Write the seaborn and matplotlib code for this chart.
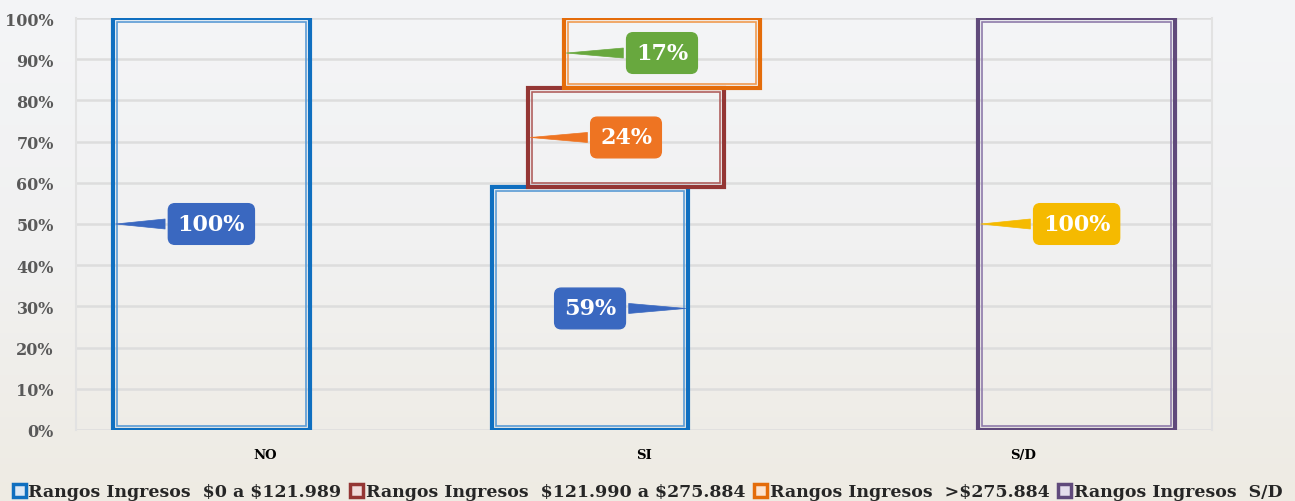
import matplotlib
matplotlib.use("Agg")
import matplotlib.pyplot as plt
import matplotlib.patches as mpatches
import numpy as np
import seaborn as sns

categories = ["NO", "SI", "S/D"]
series = [
    "Rangos Ingresos  $0 a $121.989",
    "Rangos Ingresos  $121.990 a $275.884",
    "Rangos Ingresos  >$275.884",
    "Rangos Ingresos  S/D",
]
values = [
    [1.00, 0.59, 0.00],
    [0.00, 0.24, 0.00],
    [0.00, 0.17, 0.00],
    [0.00, 0.00, 1.00],
]

edge_colors = ["#0F6FC0", "#943634", "#E46C0A", "#604A7B"]
inner_colors = ["#5A9BD5", "#B0605E", "#F09A50", "#8E7AAA"]
legend_fill = ["#DCE8F5", "#F0DCDB", "#FCE4D0", "#E4DEEC"]
label_colors = {(0, 0): "#3A68C0", (0, 1): "#3A68C0", (1, 1): "#EE7422",
                (2, 1): "#68A83E", (3, 2): "#F5BA00"}
label_side = {(0, 1): "right"}

sns.set_theme(style="white")
plt.rcParams["font.family"] = ["DejaVu Serif"]
plt.rcParams["font.weight"] = "bold"

fig = plt.figure(figsize=(12.95, 5.02), dpi=100)
fig.patch.set_facecolor("#F2F2F2")

# soft vertical background gradient
bg = fig.add_axes([0, 0, 1, 1], zorder=-10)
grad = np.linspace(0, 1, 256).reshape(-1, 1)
cmap = matplotlib.colors.LinearSegmentedColormap.from_list(
    "bg", ["#F4F5F7", "#F1F1F1", "#EEEBE3"])
bg.imshow(grad, aspect="auto", cmap=cmap, extent=[0, 1, 0, 1],
          origin="upper", vmin=0, vmax=1)
bg.set_axis_off()

ax = fig.add_axes([76 / 1295, 71 / 502, (1212 - 76) / 1295, 412 / 502])
ax.set_facecolor("none")

x = np.arange(len(categories))
bar_w = 0.52
step = 0.095
start = -1.5 * step
inset_x = 0.011
inset_y = 0.009

bottoms = np.zeros(len(categories))
for i, name in enumerate(series):
    vals = np.array(values[i])
    xs = x + start + i * step
    mask = vals > 0
    ax.bar(xs[mask], vals[mask], width=bar_w, bottom=bottoms[mask],
           facecolor="none", edgecolor=edge_colors[i], linewidth=3, zorder=3)
    ax.bar(xs[mask], vals[mask] - 2 * inset_y, width=bar_w - 2 * inset_x,
           bottom=bottoms[mask] + inset_y, facecolor="none",
           edgecolor=inner_colors[i], linewidth=1.2, zorder=3)
    for j in np.where(mask)[0]:
        mid = bottoms[j] + vals[j] / 2
        side = label_side.get((i, j), "left")
        tip = xs[j] - bar_w / 2 if side == "left" else xs[j] + bar_w / 2
        c = label_colors[(i, j)]
        ax.annotate(f"{vals[j]:.0%}", xy=(tip, mid), xytext=(xs[j], mid),
                    ha="center", va="center", color="white", fontsize=16,
                    fontweight="bold", zorder=6,
                    bbox=dict(boxstyle="round,pad=0.42,rounding_size=0.3",
                              fc=c, ec=c, lw=1),
                    arrowprops=dict(arrowstyle="wedge,tail_width=0.45,shrink_factor=0.5",
                                    fc=c, ec=c, lw=0.5))
    bottoms = bottoms + vals

ax.set_xlim(-0.5, 2.5)
ax.set_ylim(0, 1)
ax.set_yticks(np.arange(0, 1.01, 0.1))
ax.set_yticklabels([f"{int(round(t * 100))}%" for t in np.arange(0, 1.01, 0.1)],
                   fontsize=11.5, fontweight="bold", color="#595959")
ax.set_xticks(x)
ax.set_xticklabels(categories, fontsize=9.5, fontweight="bold", color="black")
ax.tick_params(axis="x", length=0, pad=13)
ax.tick_params(axis="y", length=0, pad=16)
ax.grid(axis="y", color="#DDDDDD", linewidth=1.8, zorder=0)
ax.set_axisbelow(True)
for s in ["top", "bottom"]:
    ax.spines[s].set_visible(False)
for s in ["left", "right"]:
    ax.spines[s].set_color("#E2E2E2")
    ax.spines[s].set_linewidth(1.5)

handles = [mpatches.Patch(facecolor=legend_fill[i], edgecolor=edge_colors[i],
                          linewidth=2.5, label=series[i].replace("$", r"\$"))
           for i in range(4)]
fig.legend(handles=handles, loc="lower center", bbox_to_anchor=(0.5, -0.03),
           ncol=4, frameon=False, handlelength=0.75, handleheight=0.75,
           handletextpad=0.15, columnspacing=0.5,
           prop=dict(family="DejaVu Serif", weight="bold", size=12.5))

fig.savefig("out.png", dpi=100, facecolor=fig.get_facecolor())
